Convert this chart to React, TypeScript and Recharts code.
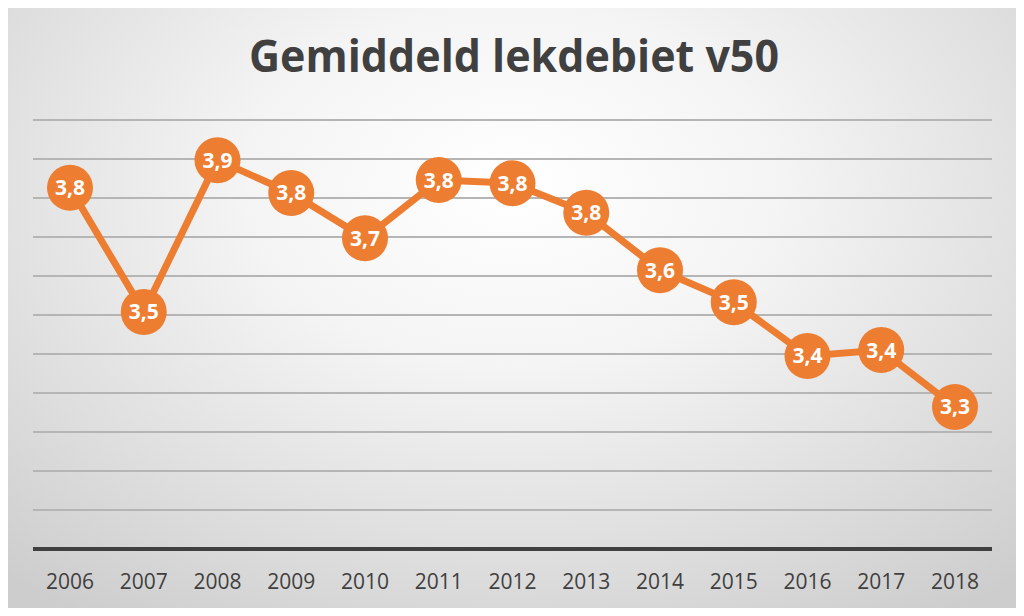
import { LineChart, Line, XAxis, YAxis, CartesianGrid, LabelList } from "recharts";

const years = ["2006", "2007", "2008", "2009", "2010", "2011", "2012", "2013", "2014", "2015", "2016", "2017", "2018"];
const leakage = [3.826, 3.508, 3.897, 3.813, 3.697, 3.846, 3.838, 3.762, 3.615, 3.533, 3.395, 3.41, 3.264];
const gridTicks = [2.9, 3.0, 3.1, 3.2, 3.3, 3.4, 3.5, 3.6, 3.7, 3.8, 3.9, 4.0];

const chartData = years.map((year, i) => ({ year, value: leakage[i] }));

const ORANGE = "#ED7D31";

const App = () => {
  return (
    <div
      style={{
        margin: -8,
        position: "relative",
        width: 1024,
        height: 616,
        boxSizing: "border-box",
        border: "1px solid #b8b8b8",
        background:
          "radial-gradient(ellipse 75% 85% at 50% 30%, #ffffff 0%, #f4f4f4 35%, #dcdcdc 75%, #cdcdcd 100%)",
        fontFamily: "'Open Sans', sans-serif",
      }}>
      <svg width={1024} height={100} style={{ position: "absolute", left: 0, top: 0 }}>
        <text
          x={513}
          y={71}
          textAnchor="middle"
          textLength={530}
          lengthAdjust="spacingAndGlyphs"
          fill="#404040"
          fontSize={44}
          fontWeight="bold"
          fontFamily="'Open Sans', sans-serif">
          Gemiddeld lekdebiet v50
        </text>
      </svg>
      <div style={{ position: "absolute", left: -1, top: -1 }}>
        <LineChart
          width={1024}
          height={616}
          data={chartData}
          margin={{ top: 120, right: 32, bottom: 17, left: 33 }}>
          <CartesianGrid horizontal vertical={false} stroke="#b5b5b5" strokeWidth={2} />
          <YAxis hide domain={[2.9, 4.0]} ticks={gridTicks} type="number" />
          <XAxis
            dataKey="year"
            height={50}
            padding={{ left: 37, right: 37 }}
            tickLine={false}
            axisLine={{ stroke: "#404040", strokeWidth: 4 }}
            tick={{ fill: "#404040", fontSize: 21, fontFamily: "'Open Sans', sans-serif" }}
            tickMargin={19}
          />
          <Line
            type="linear"
            dataKey="value"
            stroke={ORANGE}
            strokeWidth={7}
            dot={{ r: 23, fill: ORANGE, stroke: ORANGE, strokeWidth: 0 }}
            activeDot={false}
            isAnimationActive={false}>
            <LabelList
              dataKey="value"
              position="center"
              fill="#ffffff"
              fontSize={21}
              fontWeight="bold"
              fontFamily="'Open Sans', sans-serif"
              formatter={(v: any) => Number(v).toFixed(1).replace(".", ",")}
            />
          </Line>
        </LineChart>
      </div>
    </div>
  );
};

export default App;
